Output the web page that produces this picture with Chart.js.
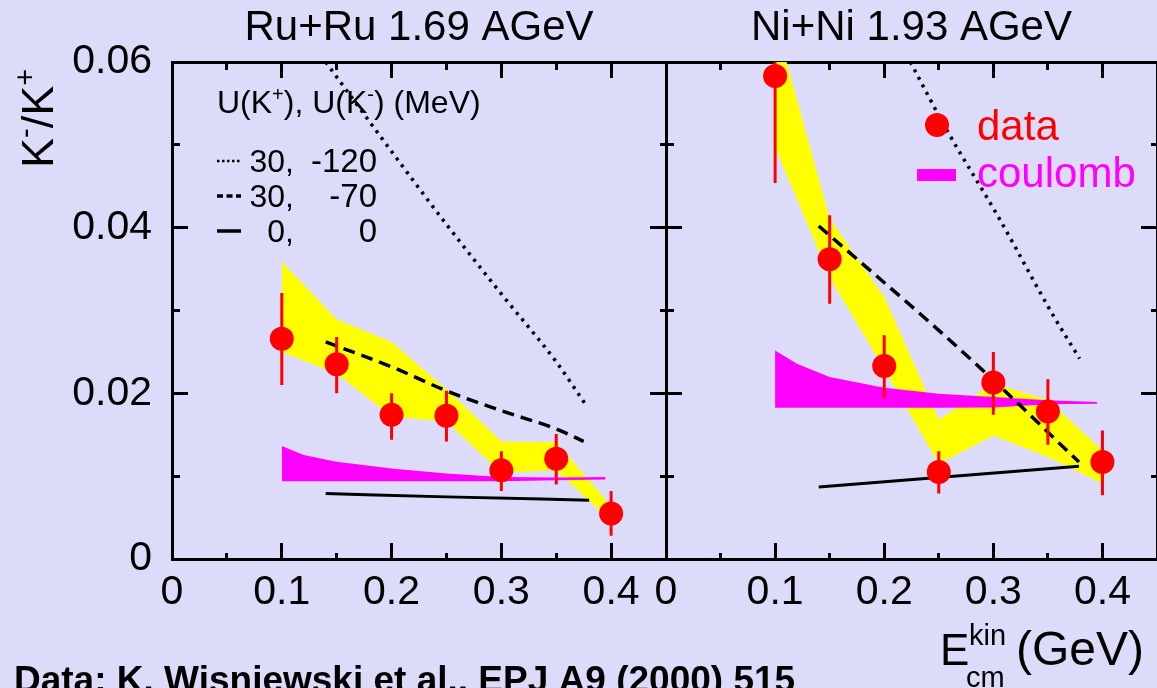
<!DOCTYPE html>
<html>
<head>
<meta charset="utf-8">
<title>K-/K+ ratio</title>
<script src="https://cdn.jsdelivr.net/npm/chart.js@4.4.1/dist/chart.umd.min.js"></script>
<style>
  html, body { margin: 0; padding: 0; background: #dcdcfa; }
  #wrap { position: relative; width: 1157px; height: 688px; overflow: hidden; background: #dcdcfa; }
  #wrap canvas { position: absolute; left: 0; top: 0; }
</style>
</head>
<body>
<div id="wrap">
  <canvas id="ruPanel" width="1157" height="688"></canvas>
  <canvas id="niPanel" width="1157" height="688"></canvas>
</div>
<script>
var FONT = "'Liberation Sans', Arial, 'DejaVu Sans', sans-serif";

// kinetic energy bins (GeV)
var energies = [0.1, 0.15, 0.2, 0.25, 0.3, 0.35, 0.4];
var coulombE = [0.1, 0.12, 0.15, 0.2, 0.25, 0.3, 0.35, 0.395];

// Ru+Ru 1.69 AGeV
var ruRatio    = [0.0266, 0.0235, 0.0174, 0.0173, 0.0107, 0.0121, 0.0055];
var ruErrLo    = [0.0210, 0.0200, 0.0144, 0.0142, 0.0082, 0.0090, 0.0028];
var ruErrHi    = [0.0321, 0.0268, 0.0200, 0.0203, 0.0130, 0.0151, 0.0082];
var ruBandLow  = [0.0250, 0.0224, 0.0172, 0.0166, 0.0104, 0.0107, 0.0046];
var ruBandHigh = [0.0359, 0.0289, 0.0262, 0.0205, 0.0142, 0.0141, 0.0064];
var ruCoulombLow  = [0.0094, 0.0094, 0.0094, 0.0094, 0.0094, 0.0094, 0.0095, 0.0096];
var ruCoulombHigh = [0.01365, 0.01255, 0.01173, 0.01092, 0.01032, 0.0099, 0.00985, 0.0099];
var ruPot120E = [0.14, 0.2, 0.25, 0.3, 0.35, 0.377];
var ruPot120  = [0.0600, 0.0492, 0.0404, 0.0320, 0.0238, 0.0186];
var ruPot70E  = [0.14, 0.2, 0.25, 0.3, 0.35, 0.375];
var ruPot70   = [0.0262, 0.0232, 0.0203, 0.0179, 0.0157, 0.0142];
var ruPot0E   = [0.14, 0.25, 0.38];
var ruPot0    = [0.0079, 0.0075, 0.0071];

// Ni+Ni 1.93 AGeV
var niRatio    = [0.0583, 0.0362, 0.0233, 0.0105, 0.0213, 0.0178, 0.0117];
var niErrLo    = [0.0454, 0.0308, 0.0194, 0.0079, 0.0174, 0.0138, 0.0077];
var niErrHi    = [0.0605, 0.0415, 0.0270, 0.0130, 0.0250, 0.0217, 0.0155];
var niBandLow  = [0.0497, 0.0340, 0.0229, 0.0115, 0.0149, 0.0123, 0.0091];
var niBandHigh = [0.0650, 0.0411, 0.0316, 0.0168, 0.0212, 0.0192, 0.0131];
var niCoulombLow  = [0.01827, 0.01827, 0.01827, 0.01827, 0.01827, 0.01830, 0.01867, 0.01875];
var niCoulombHigh = [0.02518, 0.02358, 0.02197, 0.02068, 0.01996, 0.01956, 0.01916, 0.01895];
var niPot120E = [0.224, 0.256, 0.305, 0.354, 0.379];
var niPot120  = [0.0600, 0.0521, 0.0412, 0.0296, 0.0242];
var niPot70E  = [0.14, 0.25, 0.3, 0.3785];
var niPot70   = [0.0402, 0.0276, 0.0216, 0.0117];
var niPot0E   = [0.14, 0.3785];
var niPot0    = [0.0087, 0.0112];

// axis labels
var xTickValues = [0, 0.1, 0.2, 0.3, 0.4];
var xTickLabels = ['0', '0.1', '0.2', '0.3', '0.4'];
var yTickValues = [0, 0.02, 0.04, 0.06];
var yTickLabels = ['0', '0.02', '0.04', '0.06'];

function pts(xs, ys) {
  return xs.map(function (x, i) { return { x: x, y: ys[i] }; });
}

// vertical bars broken apart by null points
function errorSegments(xs, lo, hi) {
  var out = [];
  xs.forEach(function (x, i) {
    out.push({ x: x, y: lo[i] }, { x: x, y: hi[i] }, { x: x, y: null });
  });
  return out;
}

function findLabel(v, values, labels) {
  for (var i = 0; i < values.length; i++) {
    if (Math.abs(v - values[i]) < 1e-6) return labels[i];
  }
  return '';
}

// long tick on labelled values, short one in between
function minorDash(values) {
  return function (c) {
    var v = c.tick ? c.tick.value : 0;
    return findLabel(v, values, values.map(String)) === '' ? [8, 100] : [];
  };
}

function panelDatasets(p) {
  var none = 'rgba(0,0,0,0)';
  return [
    { data: pts(energies, p.bandLow), borderColor: none, borderWidth: 0, pointRadius: 0, fill: false, order: 9 },
    { data: pts(energies, p.bandHigh), borderColor: none, borderWidth: 0, pointRadius: 0, fill: '-1', backgroundColor: '#ffff00', order: 8 },
    { data: pts(coulombE, p.coulombLow), borderColor: none, borderWidth: 0, pointRadius: 0, fill: false, order: 7 },
    { data: pts(coulombE, p.coulombHigh), borderColor: none, borderWidth: 0, pointRadius: 0, fill: '-1', backgroundColor: '#ff00ff', order: 6 },
    { data: pts(p.pot120E, p.pot120), borderColor: '#000', borderWidth: 3.5, borderDash: [3, 5.5], pointRadius: 0, fill: false, cubicInterpolationMode: 'monotone', order: 5 },
    { data: pts(p.pot70E, p.pot70), borderColor: '#000', borderWidth: 3.5, borderDash: [12, 7], pointRadius: 0, fill: false, cubicInterpolationMode: 'monotone', order: 4 },
    { data: pts(p.pot0E, p.pot0), borderColor: '#000', borderWidth: 3, pointRadius: 0, fill: false, cubicInterpolationMode: 'monotone', order: 3 },
    { data: errorSegments(energies, p.errLo, p.errHi), borderColor: '#ff0000', borderWidth: 3, pointRadius: 0, fill: false, spanGaps: false, order: 2 },
    { data: pts(energies, p.ratio), showLine: false, pointRadius: 12, pointBackgroundColor: '#ff0000', pointBorderColor: '#ff0000', pointBorderWidth: 0, order: 1 }
  ];
}

function panelOptions(showYLabels, leftWidth, rightPad) {
  var frame = { display: true, color: '#000', width: 3 };
  function ticksGrid(dashValues, dashOffset) {
    return {
      drawOnChartArea: false, tickLength: -16, tickWidth: 3, tickColor: '#000',
      tickBorderDash: minorDash(dashValues), tickBorderDashOffset: dashOffset
    };
  }
  var xBase = { type: 'linear', min: 0, max: 0.45, offset: false, border: frame };
  var yBase = { type: 'linear', min: 0, max: 0.06, border: frame };
  return {
    responsive: false,
    animation: false,
    devicePixelRatio: 1,
    layout: { autoPadding: false, padding: { left: 0, right: rightPad, top: 62, bottom: 0 } },
    plugins: { legend: { display: false }, tooltip: { enabled: false } },
    scales: {
      x: Object.assign({}, xBase, {
        position: 'bottom',
        grid: ticksGrid(xTickValues, 0),
        ticks: {
          stepSize: 0.05, autoSkip: false, maxRotation: 0, padding: 25, color: '#000',
          font: { family: FONT, size: 41 },
          callback: function (v) { return findLabel(v, xTickValues, xTickLabels); }
        },
        afterFit: function (s) { s.height = 129; s.paddingLeft = 0; s.paddingRight = 0; }
      }),
      xTop: Object.assign({}, xBase, {
        position: 'top',
        grid: ticksGrid(xTickValues, 100),
        ticks: { stepSize: 0.05, autoSkip: false, display: false },
        afterFit: function (s) { s.height = 0; s.paddingLeft = 0; s.paddingRight = 0; }
      }),
      y: Object.assign({}, yBase, {
        position: 'left',
        grid: ticksGrid(yTickValues, 100),
        ticks: {
          display: showYLabels, stepSize: 0.01, autoSkip: false, padding: 36, color: '#000',
          font: { family: FONT, size: 41 },
          callback: function (v) { return findLabel(v, yTickValues, yTickLabels); }
        },
        afterFit: function (s) { s.width = leftWidth; }
      }),
      yRight: Object.assign({}, yBase, {
        position: 'right',
        grid: ticksGrid(yTickValues, 0),
        ticks: { stepSize: 0.01, autoSkip: false, display: false },
        afterFit: function (s) { s.width = 0; }
      })
    }
  };
}

// text with raised / lowered pieces: [text, size, rise, weight]
function richText(ctx, x, y, parts, align) {
  var w = 0;
  parts.forEach(function (p) {
    ctx.font = (p[3] || '') + ' ' + p[1] + 'px ' + FONT;
    w += ctx.measureText(p[0]).width;
  });
  var cx = align === 'center' ? x - w / 2 : (align === 'right' ? x - w : x);
  ctx.textAlign = 'left';
  ctx.textBaseline = 'alphabetic';
  parts.forEach(function (p) {
    ctx.font = (p[3] || '') + ' ' + p[1] + 'px ' + FONT;
    ctx.fillText(p[0], cx, y - (p[2] || 0));
    cx += ctx.measureText(p[0]).width;
  });
}

function sampleLine(ctx, x1, x2, y, width, dash) {
  ctx.save();
  ctx.strokeStyle = '#000';
  ctx.lineWidth = width;
  ctx.setLineDash(dash);
  ctx.beginPath();
  ctx.moveTo(x1, y);
  ctx.lineTo(x2, y);
  ctx.stroke();
  ctx.restore();
}

var ruText = {
  id: 'ruText',
  afterDraw: function (chart) {
    var ctx = chart.ctx, a = chart.chartArea;
    ctx.save();
    ctx.fillStyle = '#000';
    richText(ctx, (a.left + a.right) / 2, 40, [['Ru+Ru 1.69 AGeV', 42]], 'center');

    // vertical axis title
    ctx.save();
    ctx.translate(53, 168);
    ctx.rotate(-Math.PI / 2);
    richText(ctx, 0, 0, [['K', 45], ['-', 29, 18], ['/', 45], ['K', 45], ['+', 29, 18]], 'left');
    ctx.restore();

    // potential legend
    richText(ctx, 217, 113, [['U(K', 32], ['+', 20, 12], ['), U(K', 32], ['-', 20, 12], [') (MeV)', 32]], 'left');
    var rows = [
      { y: 161, c1: '30,', c2: '-120', w: 2.5, dash: [2.5, 2.5] },
      { y: 196, c1: '30,', c2: '-70', w: 3.5, dash: [6, 3.5] },
      { y: 231, c1: '0,', c2: '0', w: 3.5, dash: [] }
    ];
    rows.forEach(function (r) {
      sampleLine(ctx, 217, 241, r.y, r.w, r.dash);
      richText(ctx, 294, r.y + 11, [[r.c1, 32]], 'right');
      richText(ctx, 377, r.y + 11, [[r.c2, 33]], 'right');
    });

    richText(ctx, 14, 692, [['Data: K. Wisniewski et al., EPJ A9 (2000) 515', 37, 0, 'bold']], 'left');
    ctx.restore();
  }
};

var niText = {
  id: 'niText',
  afterDraw: function (chart) {
    var ctx = chart.ctx, a = chart.chartArea;
    ctx.save();
    ctx.fillStyle = '#000';
    richText(ctx, (a.left + a.right) / 2, 40, [['Ni+Ni 1.93 AGeV', 42]], 'center');

    // data / coulomb legend
    ctx.fillStyle = '#ff0000';
    ctx.beginPath();
    ctx.arc(937, 125, 12, 0, Math.PI * 2);
    ctx.fill();
    richText(ctx, 977, 140, [['data', 42]], 'left');
    ctx.fillStyle = '#ff00ff';
    ctx.fillRect(917, 169, 39, 12);
    richText(ctx, 977, 187, [['coulomb', 42]], 'left');

    // horizontal axis title
    ctx.fillStyle = '#000';
    richText(ctx, 940, 665, [['E', 44]], 'left');
    richText(ctx, 969, 645, [['kin', 29]], 'left');
    richText(ctx, 966, 687, [['cm', 29]], 'left');
    richText(ctx, 1016, 665, [['(GeV)', 48]], 'left');
    ctx.restore();
  }
};

var ruChart = new Chart(document.getElementById('ruPanel').getContext('2d'), {
  type: 'line',
  data: {
    datasets: panelDatasets({
      ratio: ruRatio, errLo: ruErrLo, errHi: ruErrHi,
      bandLow: ruBandLow, bandHigh: ruBandHigh,
      coulombLow: ruCoulombLow, coulombHigh: ruCoulombHigh,
      pot120E: ruPot120E, pot120: ruPot120,
      pot70E: ruPot70E, pot70: ruPot70,
      pot0E: ruPot0E, pot0: ruPot0
    })
  },
  options: panelOptions(true, 172, 1157 - 666),
  plugins: [ruText]
});

var niChart = new Chart(document.getElementById('niPanel').getContext('2d'), {
  type: 'line',
  data: {
    datasets: panelDatasets({
      ratio: niRatio, errLo: niErrLo, errHi: niErrHi,
      bandLow: niBandLow, bandHigh: niBandHigh,
      coulombLow: niCoulombLow, coulombHigh: niCoulombHigh,
      pot120E: niPot120E, pot120: niPot120,
      pot70E: niPot70E, pot70: niPot70,
      pot0E: niPot0E, pot0: niPot0
    })
  },
  options: panelOptions(false, 666, 0),
  plugins: [niText]
});
</script>
</body>
</html>
